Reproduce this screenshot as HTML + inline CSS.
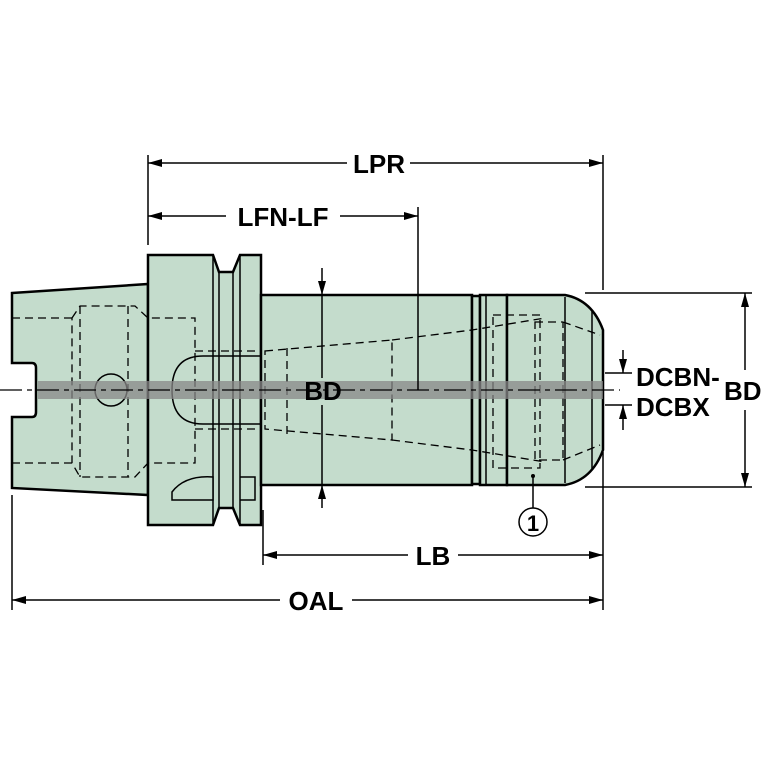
<!DOCTYPE html>
<html><head><style>body{margin:0;background:#fff}svg{display:block}</style></head><body>
<svg width="767" height="767" viewBox="0 0 767 767" xmlns="http://www.w3.org/2000/svg" font-family="Liberation Sans, sans-serif" font-weight="bold">
<defs><marker id="a" viewBox="0 0 14 10" refX="14" refY="5" markerWidth="14" markerHeight="10" orient="auto-start-reverse" markerUnits="userSpaceOnUse"><path d="M0,1 L14,5 L0,9z" fill="#000"/></marker></defs>
<g fill="#c4dccc" stroke="#000" stroke-width="2.5">
<path d="M12,293 L148,284 L148,495 L12,488 L12,417 L32,417 Q36,417 36,412 L36,368 Q36,363 32,363 L12,363Z"/>
<path d="M148,255 L213,255 L219,272 L233,272 L240,255 L261,255 L261,525 L240,525 L233,508 L219,508 L213,525 L148,525Z"/>
<path d="M261,295 L472,295 L472,485 L261,485Z"/>
<path d="M472,296 L480,296 L480,484 L472,484Z"/>
<path d="M480,295 L507,295 L507,485 L480,485Z"/>
<path d="M507,295 L565,295 Q592,300 603,330 L603,450 Q592,480 565,485 L507,485Z"/>
</g>
<g stroke="#000" stroke-width="1.5" fill="none">
<line x1="219" y1="272" x2="219" y2="508"/><line x1="233" y1="272" x2="233" y2="508"/><line x1="213" y1="255" x2="213" y2="525"/><line x1="240" y1="255" x2="240" y2="525"/>
<line x1="486" y1="296" x2="486" y2="484"/><line x1="565" y1="297" x2="565" y2="483"/><line x1="592" y1="310" x2="592" y2="470"/>
<path d="M261,356 L203,356 Q172,356 172,390 Q172,424 203,424 L261,424"/>
<circle cx="111" cy="390" r="16"/>
<path d="M172,492 Q185,475 213,477 L213,500 L172,500Z" fill="#c4dccc"/>
<path d="M240,477 L255,477 L255,500 L240,500"/>
</g>
<g stroke="#000" stroke-width="1.3" fill="none" stroke-dasharray="8,5">
<line x1="12" y1="318" x2="72" y2="318"/><line x1="12" y1="463" x2="72" y2="463"/>
<path d="M72,318 L80,306 L135,306 L148,318 L195,318 L195,463 L148,463 L135,477 L80,477 L72,463Z"/>
<line x1="80" y1="306" x2="80" y2="477"/><line x1="128" y1="306" x2="128" y2="477"/>
<path d="M195,351 L261,351 M195,429 L261,429"/>
<path d="M265,351 L392,340 L392,440 L265,429Z"/>
<path d="M287,348 L287,438 M392,340 L472,330 L545,318 M392,440 L472,450 L545,462"/>
<path d="M493,315 L540,315 L540,468 L493,468Z M535,322 L563,322 L563,460 L535,460Z M563,322 L600,335 M563,460 L600,445"/>
</g>
<rect x="38" y="381" width="565" height="18" fill="#888" opacity="0.75"/>
<line x1="0" y1="390" x2="620" y2="390" stroke="#000" stroke-width="1.3" stroke-dasharray="22,5,5,5"/>
<g stroke="#000" stroke-width="1.5" fill="none">
<line x1="148" y1="155" x2="148" y2="245"/><line x1="418" y1="207" x2="418" y2="390"/><line x1="603" y1="155" x2="603" y2="290"/>
<line x1="12" y1="495" x2="12" y2="610"/><line x1="263" y1="510" x2="263" y2="565"/><line x1="603" y1="452" x2="603" y2="610"/>
<line x1="148" y1="163" x2="347" y2="163" marker-start="url(#a)"/><line x1="410" y1="163" x2="603" y2="163" marker-end="url(#a)"/>
<line x1="148" y1="216" x2="226" y2="216" marker-start="url(#a)"/><line x1="340" y1="216" x2="418" y2="216" marker-end="url(#a)"/>
<line x1="263" y1="555" x2="408" y2="555" marker-start="url(#a)"/><line x1="458" y1="555" x2="603" y2="555" marker-end="url(#a)"/>
<line x1="12" y1="600" x2="280" y2="600" marker-start="url(#a)"/><line x1="352" y1="600" x2="603" y2="600" marker-end="url(#a)"/>
<line x1="322" y1="268" x2="322" y2="295" marker-end="url(#a)"/><line x1="322" y1="295" x2="322" y2="378"/><line x1="322" y1="405" x2="322" y2="485"/><line x1="322" y1="508" x2="322" y2="485" marker-end="url(#a)"/>
<line x1="585" y1="293" x2="752" y2="293"/><line x1="585" y1="487" x2="752" y2="487"/>
<line x1="745" y1="370" x2="745" y2="293" marker-end="url(#a)"/><line x1="745" y1="410" x2="745" y2="487" marker-end="url(#a)"/>
<line x1="605" y1="373" x2="632" y2="373"/><line x1="605" y1="405" x2="632" y2="405"/>
<line x1="623" y1="350" x2="623" y2="373" marker-end="url(#a)"/><line x1="623" y1="430" x2="623" y2="405" marker-end="url(#a)"/>
<line x1="533" y1="477" x2="533" y2="508"/><circle cx="533" cy="522" r="14"/>
</g>
<circle cx="533" cy="476" r="2" fill="#000"/>
<g font-size="26" fill="#000">
<text x="379" y="173" text-anchor="middle">LPR</text>
<text x="283" y="226" text-anchor="middle">LFN-LF</text>
<text x="433" y="565" text-anchor="middle">LB</text>
<text x="316" y="610" text-anchor="middle">OAL</text>
<text x="323" y="400" text-anchor="middle">BD</text>
<text x="636" y="386">DCBN-</text>
<text x="636" y="416">DCBX</text>
<text x="724" y="400">BD</text>
<text x="533" y="531" text-anchor="middle" font-size="22">1</text>
</g>
</svg>
</body></html>
